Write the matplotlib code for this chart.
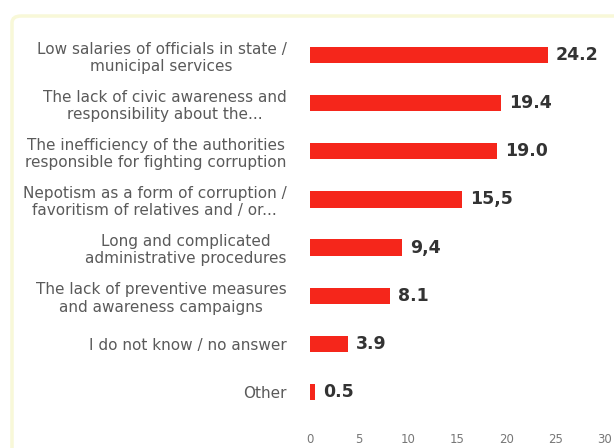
import matplotlib
matplotlib.use("Agg")
import matplotlib.pyplot as plt
from matplotlib.patches import FancyBboxPatch

categories = [
    "Low salaries of officials in state /\nmunicipal services",
    "The lack of civic awareness and\nresponsibility about the...",
    "The inefficiency of the authorities\nresponsible for fighting corruption",
    "Nepotism as a form of corruption /\nfavoritism of relatives and / or...",
    "Long and complicated\nadministrative procedures",
    "The lack of preventive measures\nand awareness campaigns",
    "I do not know / no answer",
    "Other",
]
values = [24.2, 19.4, 19.0, 15.5, 9.4, 8.1, 3.9, 0.5]
value_labels = ["24.2", "19.4", "19.0", "15,5", "9,4", "8.1", "3.9", "0.5"]
xticks = [0, 5, 10, 15, 20, 25, 30]

fig = plt.figure(figsize=(6.14, 4.48), dpi=100)
fig.patch.set_facecolor("white")

border = FancyBboxPatch((12/614, -0.05), 1.0, 1 - 16/448 + 0.05,
                        boxstyle="round,pad=0,rounding_size=0.015",
                        transform=fig.transFigure, facecolor="none",
                        edgecolor="#F8F8D8", linewidth=2.5, zorder=-5)
fig.patches.append(border)

ax = fig.add_axes([310/614, 1 - 416/448, 295/614, (416 - 31)/448])
ax.set_zorder(5)
ax.set_facecolor("none")
y = list(range(len(categories)))
ax.barh(y, values, height=0.34, color="#F5261B")
ax.set_ylim(len(categories) - 0.5, -0.5)
ax.set_xlim(0, 30)
ax.set_xticks(xticks)
ax.set_xticklabels([str(t) for t in xticks], fontsize=8.5, color="#777777")
ax.set_yticks(y)
ax.set_yticklabels(categories, fontsize=11, color="#5a5a5a", ha="right",
                   multialignment="center", linespacing=1.2)
ax.tick_params(axis="y", length=0, pad=17)
ax.tick_params(axis="x", length=0, pad=12)
for s in ax.spines.values():
    s.set_visible(False)

for yi, v, lab in zip(y, values, value_labels):
    ax.text(v + 0.8, yi, lab, va="center", ha="left", fontsize=12.5,
            fontweight="bold", color="#333333")

fig.savefig("out.png", dpi=100)
